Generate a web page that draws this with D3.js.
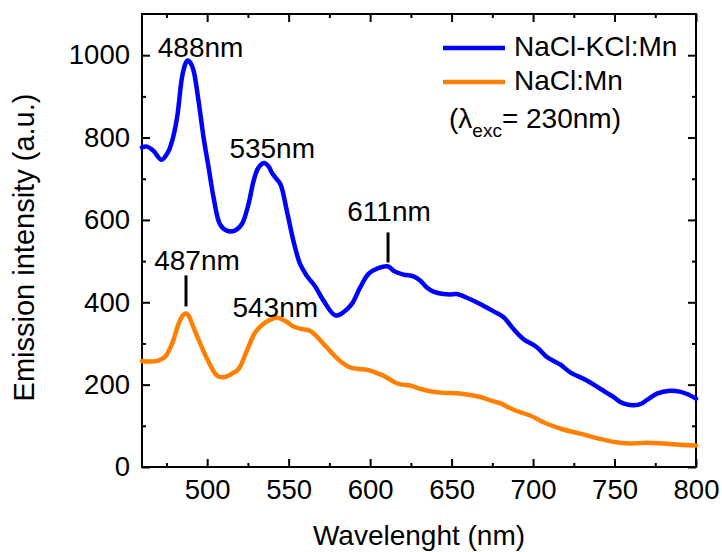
<!DOCTYPE html>
<html>
<head>
<meta charset="utf-8">
<script src="https://cdn.jsdelivr.net/npm/d3@7"></script>
<style>
  html, body { margin: 0; padding: 0; background: #fff; }
  svg { display: block; }
  text { font-family: "Liberation Sans", Arial, sans-serif; fill: #000; }
</style>
</head>
<body>
<svg id="chart" width="722" height="552"></svg>
<script>
// Emission spectra (excitation at 230 nm)
const mixedWavelength = [460, 463, 467, 472, 476, 478.5, 481.5, 484.5, 486.5, 488, 490, 491.7, 494.7, 497.8, 500.9, 503.9, 507.8, 512, 517, 521.3, 525.4, 528.5, 531.5, 535, 538, 539.5, 541.8, 544.9, 549, 553, 557, 561, 566, 571.4, 578.6, 583.7, 588.8, 593.9, 599, 605, 611, 615, 620.5, 626.6, 630.7, 634.8, 638.9, 645, 649, 653, 659.4, 667.5, 675.7, 681.8, 688, 694, 702.3, 708.5, 716.6, 722.8, 733, 741.2, 749.3, 753.5, 757.5, 762, 766, 770, 776, 784, 790, 795.3, 800];
const mixedIntensity = [776, 778, 768, 746, 765, 792, 848, 945, 978, 987, 980, 962, 889, 800, 727, 655, 590, 574, 574, 590, 639, 695, 727, 738, 728, 716, 703, 687, 620, 548, 493, 465, 440, 404, 368, 376, 396, 436, 469, 483, 487, 475, 467, 463, 453, 436, 426, 420, 419, 420, 411, 396, 378, 364, 335, 311, 291, 267, 249, 230, 210, 190, 170, 158, 152, 150, 153, 163, 178, 185, 183, 176, 166];

const pureWavelength = [460, 465, 469, 472, 474.3, 478.4, 482.5, 485, 487, 489, 490.7, 495.8, 500.9, 506, 510, 515, 519.3, 524.4, 529.5, 534.6, 539, 543, 546, 549, 553, 558, 563, 567, 571.4, 577, 581.7, 587.8, 593, 598, 603, 608, 612, 616, 619.5, 624.6, 630.7, 636.9, 645, 653.3, 659.4, 667.5, 673.7, 679.8, 688, 698.2, 708.5, 718.6, 728.9, 739.1, 749.3, 759.6, 769.8, 780, 790.2, 800];
const pureIntensity = [257, 256, 257, 262, 268, 299, 348, 368, 373, 365, 348, 299, 255, 222, 218, 226, 238, 283, 327, 348, 358, 363, 358, 352, 341, 335, 331, 318, 299, 275, 257, 242, 238, 236, 230, 222, 213, 204, 200, 198, 190, 184, 180, 179, 176, 170, 162, 155, 139, 125, 105, 91, 81, 70, 61, 57, 59, 57, 54, 52];

const seriesNames = ["NaCl-KCl:Mn", "NaCl:Mn"];
const seriesColors = ["#0000ff", "#ff7f00"];

const xMajorTicks = [500, 550, 600, 650, 700, 750, 800];
const xMinorTicks = [475, 525, 575, 625, 675, 725, 775];
const yMajorTicks = [0, 200, 400, 600, 800, 1000];
const yMinorTicks = [100, 300, 500, 700, 900];

// Labelled emission maxima: series index, wavelength, intensity at the peak
const peakSeries = [0, 0, 0, 1, 1];
const peakWavelength = [488, 535, 611, 487, 543];
const peakIntensity = [987, 738, 487, 373, 363];

const svg = d3.select("#chart");
const plotLeft = 142, plotRight = 696, plotTop = 14, plotBottom = 467;

const x = d3.scaleLinear().domain([460, 800]).range([plotLeft, plotRight]);
const y = d3.scaleLinear().domain([0, 1100]).range([plotBottom, plotTop]);

const series = [
  { x: mixedWavelength, y: mixedIntensity },
  { x: pureWavelength, y: pureIntensity }
];

// Axes: ticks point inward on all four sides
function drawAxis(gen, transform, values, size, labels, padding) {
  const g = svg.append("g").attr("transform", transform)
    .call(gen.tickValues(values).tickSizeInner(-size).tickSizeOuter(0)
      .tickPadding(padding || 0).tickFormat(labels ? d3.format("d") : ""));
  g.select(".domain").remove();
  g.selectAll(".tick line").attr("stroke", "#000").attr("stroke-width", 2);
  g.selectAll(".tick text").attr("font-size", 27.5)
    .attr("font-family", "'Liberation Sans', Arial, sans-serif").attr("fill", "#000");
  return g;
}
drawAxis(d3.axisBottom(x), `translate(0,${plotBottom})`, xMajorTicks, 8, true, 12);
drawAxis(d3.axisBottom(x), `translate(0,${plotBottom})`, xMinorTicks, 4, false);
drawAxis(d3.axisTop(x), `translate(0,${plotTop})`, xMajorTicks, 8, false);
drawAxis(d3.axisTop(x), `translate(0,${plotTop})`, xMinorTicks, 4, false);
drawAxis(d3.axisLeft(y), `translate(${plotLeft},0)`, yMajorTicks, 8, true, 12);
drawAxis(d3.axisLeft(y), `translate(${plotLeft},0)`, yMinorTicks, 4, false);
drawAxis(d3.axisRight(y), `translate(${plotRight},0)`, yMajorTicks, 8, false);
drawAxis(d3.axisRight(y), `translate(${plotRight},0)`, yMinorTicks, 4, false);

// Plot frame
svg.append("rect")
  .attr("x", plotLeft).attr("y", plotTop)
  .attr("width", plotRight - plotLeft).attr("height", plotBottom - plotTop)
  .attr("fill", "none").attr("stroke", "#000").attr("stroke-width", 2);

// Spectra
const line = d3.line()
  .x(d => x(d[0])).y(d => y(d[1]))
  .curve(d3.curveCatmullRom.alpha(0.5));

series.forEach((s, i) => {
  svg.append("path")
    .datum(d3.zip(s.x, s.y))
    .attr("fill", "none")
    .attr("stroke", seriesColors[i])
    .attr("stroke-width", 4.5)
    .attr("stroke-linejoin", "round")
    .attr("stroke-linecap", "round")
    .attr("d", line);
});

// Peak annotations
const labelShift = [[13, -4], [8, -5], [1, -45], [11, -43], [-2, -1]];
const markerSpan = { 2: [-34, -4], 3: [-38, -7] };
peakWavelength.forEach((w, i) => {
  const px = x(w), py = y(peakIntensity[i]);
  svg.append("text")
    .attr("x", px + labelShift[i][0]).attr("y", py + labelShift[i][1])
    .attr("text-anchor", "middle").attr("font-size", 28)
    .text(`${w}nm`);
  if (markerSpan[i]) {
    svg.append("line")
      .attr("x1", px).attr("x2", px)
      .attr("y1", py + markerSpan[i][0]).attr("y2", py + markerSpan[i][1])
      .attr("stroke", "#000").attr("stroke-width", 3);
  }
});

// Legend
const legendRows = [48, 82];
seriesNames.forEach((name, i) => {
  svg.append("line")
    .attr("x1", 443).attr("x2", 505)
    .attr("y1", legendRows[i]).attr("y2", legendRows[i])
    .attr("stroke", seriesColors[i]).attr("stroke-width", 4.5);
  svg.append("text")
    .attr("x", 514).attr("y", legendRows[i] + 8)
    .attr("font-size", 28).text(name);
});
const exc = svg.append("text").attr("x", 449).attr("y", 128).attr("font-size", 28);
exc.append("tspan").text("(λ");
exc.append("tspan").attr("font-size", 19).attr("dy", 9).text("exc");
exc.append("tspan").attr("dy", -9).text("= 230nm)");

// Axis titles
svg.append("text")
  .attr("x", (plotLeft + plotRight) / 2).attr("y", 545)
  .attr("text-anchor", "middle").attr("font-size", 28)
  .text("Wavelenght (nm)");
svg.append("text")
  .attr("transform", `translate(34,${(plotTop + plotBottom) / 2 + 7}) rotate(-90)`)
  .attr("text-anchor", "middle").attr("font-size", 29)
  .text("Emission intensity (a.u.)");
</script>
</body>
</html>
